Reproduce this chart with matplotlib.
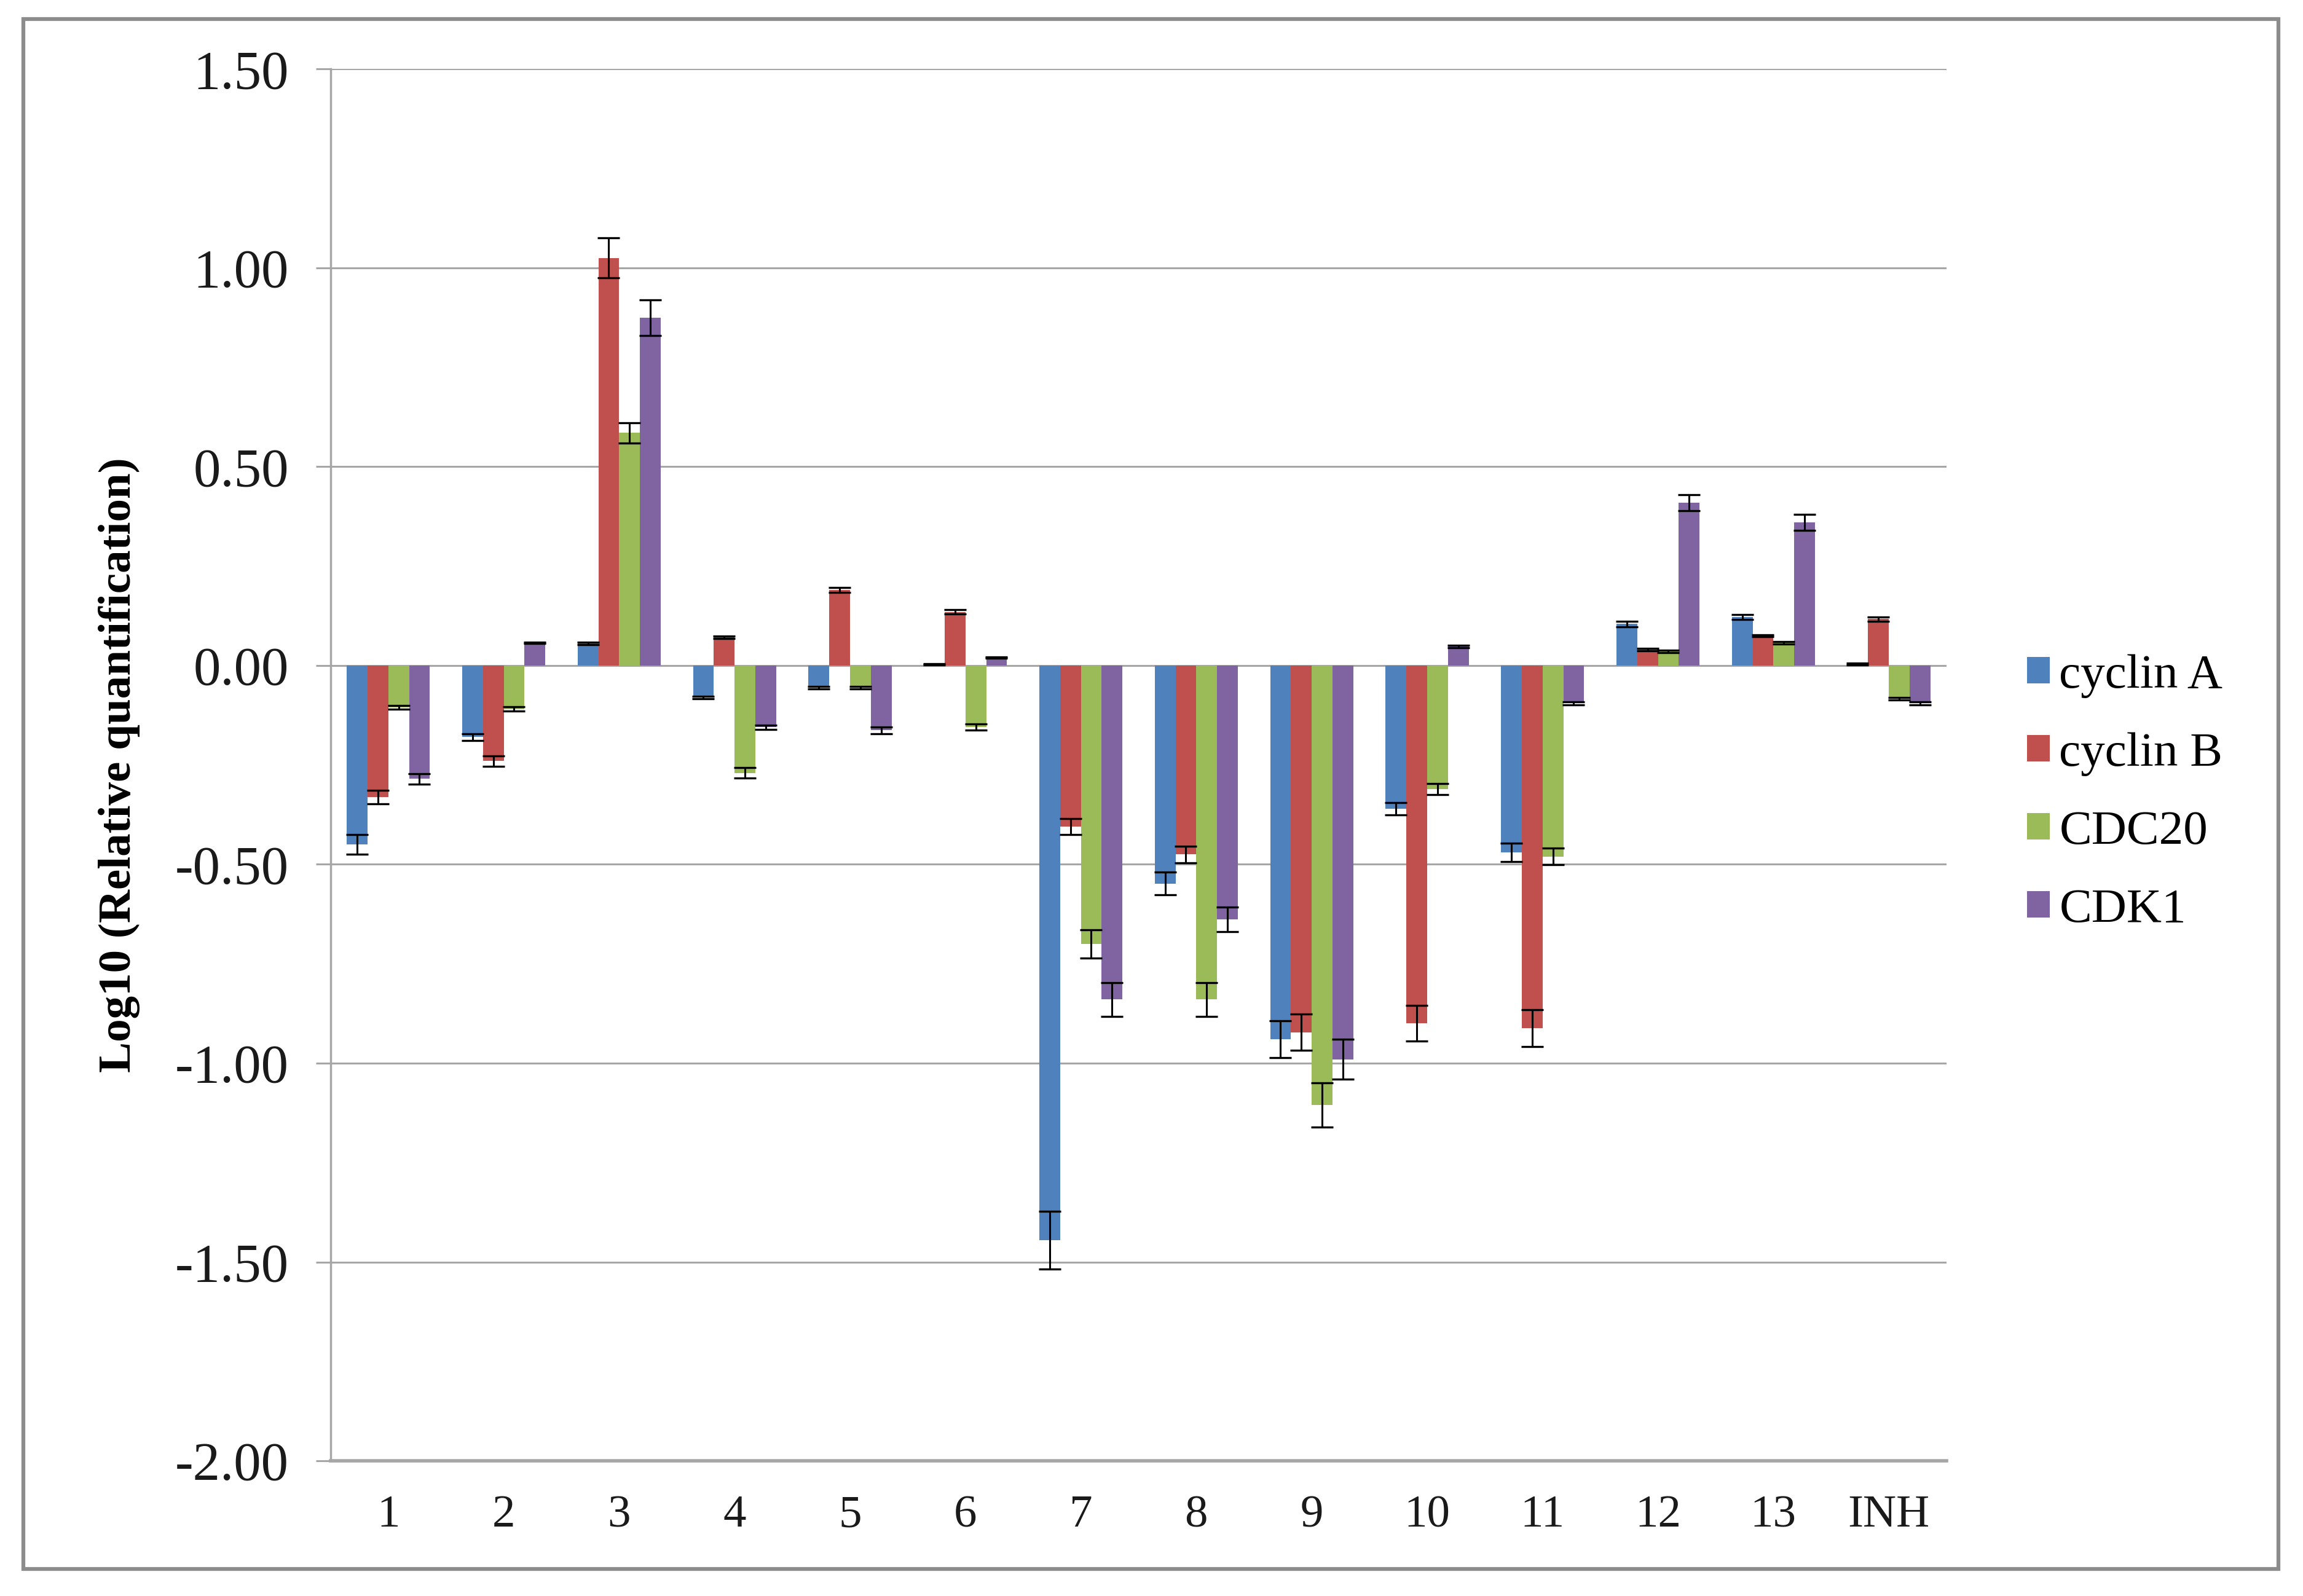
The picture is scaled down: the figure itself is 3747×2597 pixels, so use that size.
import numpy as np
import matplotlib
matplotlib.use("Agg")
import matplotlib.pyplot as plt
from matplotlib.patches import Rectangle

plt.rcParams['font.family'] = ['Liberation Serif', 'DejaVu Serif']
plt.rcParams['axes.unicode_minus'] = False

# groups on the x axis
groups = ['1', '2', '3', '4', '5', '6', '7', '8', '9', '10', '11', '12', '13', 'INH']

# log10 relative quantification
cyclinA = [-0.45, -0.18, 0.056, -0.08, -0.056, 0.003, -1.445, -0.548, -0.94, -0.36, -0.47, 0.105, 0.122, 0.004]
cyclinA_err = [0.025, 0.009, 0.003, 0.003, 0.003, 0.002, 0.072, 0.028, 0.046, 0.016, 0.023, 0.007, 0.006, 0.002]

cyclinB = [-0.33, -0.24, 1.025, 0.071, 0.19, 0.135, -0.405, -0.475, -0.922, -0.90, -0.912, 0.04, 0.075, 0.117]
cyclinB_err = [0.017, 0.013, 0.05, 0.003, 0.006, 0.005, 0.02, 0.021, 0.046, 0.045, 0.046, 0.003, 0.003, 0.005]

cdc20 = [-0.105, -0.109, 0.585, -0.27, -0.056, -0.155, -0.70, -0.84, -1.105, -0.31, -0.48, 0.035, 0.057, -0.084]
cdc20_err = [0.005, 0.005, 0.025, 0.013, 0.003, 0.008, 0.036, 0.042, 0.056, 0.014, 0.021, 0.003, 0.003, 0.003]

cdk1 = [-0.285, 0.057, 0.875, -0.155, -0.163, 0.02, -0.84, -0.638, -0.99, 0.048, -0.095, 0.41, 0.36, -0.095]
cdk1_err = [0.013, 0.002, 0.045, 0.005, 0.009, 0.002, 0.042, 0.031, 0.05, 0.003, 0.004, 0.02, 0.02, 0.004]

series_names = ['cyclin A', 'cyclin B', 'CDC20', 'CDK1']
series_vals = [cyclinA, cyclinB, cdc20, cdk1]
series_errs = [cyclinA_err, cyclinB_err, cdc20_err, cdk1_err]
colors = ['#4F81BD', '#C0504D', '#9BBB59', '#8064A2']

yticks = [1.5, 1.0, 0.5, 0.0, -0.5, -1.0, -1.5, -2.0]

fig = plt.figure(figsize=(37.48, 25.97), dpi=100)
ax = fig.add_axes([0.1435, 0.0847, 0.7015, 0.872])

x = np.arange(len(groups))
w = 0.18

# gridlines behind the bars
for yv in yticks[:-1]:
    ax.axhline(yv, color='#A6A6A6', lw=2.2, zorder=0)

for k in range(4):
    pos = x + (k - 1.5) * w
    ax.bar(pos, series_vals[k], width=w, color=colors[k], label=series_names[k], zorder=2)
    ax.errorbar(pos, series_vals[k], yerr=series_errs[k], fmt='none', ecolor='black',
                elinewidth=2.2, capsize=13, capthick=2.4, zorder=3)

ax.set_xlim(-0.5, len(groups) - 0.5)
ax.set_ylim(-2.0, 1.5)
ax.set_yticks(yticks)
ax.set_yticklabels(['%.2f' % v for v in yticks], fontsize=64, color='#1a1a1a')
ax.set_xticks(x)
ax.set_xticklabels(groups, fontsize=54, color='#1a1a1a')

ax.tick_params(axis='y', direction='out', length=17, width=2.2, color='#A6A6A6', pad=32)
ax.tick_params(axis='x', length=0, pad=40)

ax.spines['top'].set_visible(False)
ax.spines['right'].set_visible(False)
ax.spines['left'].set_color('#A6A6A6')
ax.spines['left'].set_linewidth(2.5)
ax.spines['bottom'].set_color('#A6A6A6')
ax.spines['bottom'].set_linewidth(4)

ax.set_ylabel('Log10 (Relative quantification)', fontsize=54, fontweight='bold')
ax.yaxis.set_label_coords(-0.118, 0.5)

leg = ax.legend(loc='center left', bbox_to_anchor=(0.88, 0.503), bbox_transform=fig.transFigure,
                frameon=False, fontsize=57, handlelength=0.46, handleheight=0.46,
                handletextpad=0.2, labelspacing=0.7, borderpad=0, borderaxespad=0)

# outer frame around the whole chart
fig.patches.append(Rectangle((0.0101, 0.017), 0.979, 0.971, transform=fig.transFigure,
                             fill=False, edgecolor='#8C8C8C', lw=4.5))

fig.savefig('out.png', dpi=100)
